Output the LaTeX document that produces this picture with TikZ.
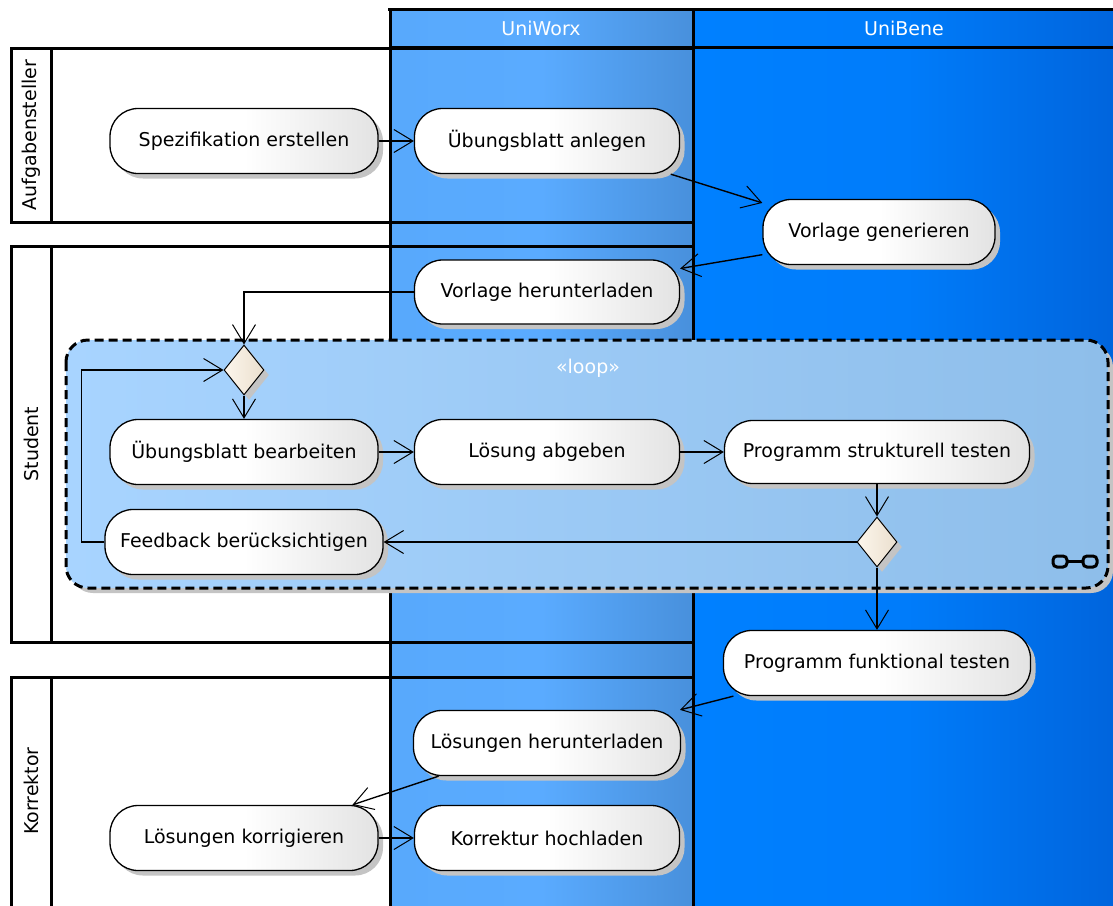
\documentclass[tikz,border=0pt]{standalone}
\usepackage{fontspec}
\setmainfont{DejaVu Sans}
\usetikzlibrary{arrows.meta,shapes.geometric,shadows,calc}
\definecolor{worxL}{HTML}{58A9FC}
\definecolor{worxM}{HTML}{5AABFF}
\definecolor{worxR}{HTML}{4890DC}
\definecolor{beneL}{HTML}{0080FF}
\definecolor{beneM}{HTML}{007CFA}
\definecolor{beneR}{HTML}{0064DC}
\definecolor{loopL}{HTML}{A8D4FF}
\definecolor{loopR}{HTML}{8EBEEA}
\definecolor{diaL}{HTML}{FDF6EC}
\definecolor{diaR}{HTML}{EADFCE}
\definecolor{shad}{HTML}{C4C4C4}
\tikzset{
  txt/.style={font=\fontsize{19}{22}\selectfont},
  act/.style={txt, draw=black, line width=1.3pt, rounded corners=28pt,
    minimum height=65pt, inner sep=0pt,
    left color=white, right color=black!11, middle color=white,
    drop shadow={shadow xshift=5pt, shadow yshift=-5pt, fill=shad, opacity=1}},
  dec/.style={diamond, draw=black, line width=1pt, minimum width=40pt, minimum height=50pt, inner sep=0pt,
    left color=diaL, right color=diaR,
    drop shadow={shadow xshift=5pt, shadow yshift=-5pt, fill=shad, opacity=1}},
  flow/.style={line width=1.4pt, -{Straight Barb[length=19pt,width=23pt,line width=1pt]}},
  hdr/.style={txt, text=white},
  lanelbl/.style={txt, rotate=90},
  border/.style={line width=3pt, draw=black},
}
\begin{document}
\begin{tikzpicture}[x=1pt,y=-1pt]
\useasboundingbox (0,0) rectangle (1113,905);
\clip (0,0) rectangle (1113,905);
\fill[white] (0,0) rectangle (1113,905);
% columns
\shade[left color=worxL, right color=worxR, middle color=worxM] (390,9) rectangle (693,910);
\shade[left color=beneL, right color=beneR, middle color=beneM] (693,9) rectangle (1120,910);
% lanes (white parts)
\fill[white] (11,48) rectangle (390,222);
\fill[white] (11,246) rectangle (390,642);
\fill[white] (11,677) rectangle (390,915);
% lane borders
\draw[border] (11,48) rectangle (693,222);
\draw[border] (11,246) rectangle (693,642);
\draw[border] (11,677) rectangle (693,915);
\draw[border] (51,48) -- (51,222);
\draw[border] (51,246) -- (51,642);
\draw[border] (51,677) -- (51,915);
% column borders
\draw[border] (390,8) -- (390,910);
\draw[border] (693,8) -- (693,910);
\draw[border] (388,9) -- (1115,9);
\draw[border] (390,47) -- (1115,47);
% headers and lane labels
\node[hdr] (hW) at (541,28) {UniWorx};
\node[hdr] (hB) at (904,28) {UniBene};
\node[lanelbl] (lA) at (31,135) {Aufgabensteller};
\node[lanelbl] (lS) at (31,444) {Student};
\node[lanelbl] (lK) at (31,791) {Korrektor};
% loop region
\path[draw=black, line width=3pt, dash pattern=on 9pt off 5pt, rounded corners=22pt,
  left color=loopL, right color=loopR,
  drop shadow={shadow xshift=5pt, shadow yshift=-5pt, fill=shad, opacity=1}]
  (66,340) rectangle (1108,588);
\node[txt, text=white] (looplbl) at (588,368) {«loop»};
% link icon
\draw[line width=3pt, rounded corners=4pt] (1053,556) rectangle (1067,567);
\draw[line width=3pt, rounded corners=4pt] (1083,556) rectangle (1097,567);
\draw[line width=3pt] (1067,561.5) -- (1083,561.5);
% activities
\node[act, minimum width=268pt] (spez) at (244,141) {Spezifikation erstellen};
\node[act, minimum width=265pt] (anlegen) at (547,141) {Übungsblatt anlegen};
\node[act, minimum width=232pt] (vgen) at (879,232) {Vorlage generieren};
\node[act, minimum width=265pt, minimum height=64pt] (vherunter) at (547,292) {Vorlage herunterladen};
\node[dec] (d1) at (244,370) {};
\node[act, minimum width=268pt] (bearb) at (244,452) {Übungsblatt bearbeiten};
\node[act, minimum width=265pt] (abgeb) at (547,452) {Lösung abgeben};
\node[act, minimum width=305pt, minimum height=63pt] (strukt) at (877,452) {Programm strukturell testen};
\node[dec] (d2) at (877,542) {};
\node[act, minimum width=278pt] (feedb) at (244,542) {Feedback berücksichtigen};
\node[act, minimum width=307pt] (funkt) at (877,663) {Programm funktional testen};
\node[act, minimum width=267pt] (lherunter) at (547,743) {Lösungen herunterladen};
\node[act, minimum width=268pt] (korr) at (244,838) {Lösungen korrigieren};
\node[act, minimum width=265pt] (hochl) at (547,838) {Korrektur hochladen};
% flows
\draw[flow] (spez.east) -- (anlegen.west);
\draw[flow] (anlegen.-15) -- (vgen.166);
\draw[flow] (vgen.191) -- (vherunter.10);
\draw[flow] (vherunter.west) -| (d1.north);
\draw[flow] (d1.south) -- (bearb.north);
\draw[flow] (bearb.east) -- (abgeb.west);
\draw[flow] (abgeb.east) -- (strukt.west);
\draw[flow] (strukt.south) -- (d2.north);
\draw[flow] (d2.west) -- (feedb.east);
\draw[flow] (d2.south) -- (funkt.north);
\draw[flow] (feedb.west) -- ++(-23,0) |- (d1.west);
\draw[flow] (funkt.193) -- (lherunter.14);
\draw[flow] (lherunter.197) -- (korr.17);
\draw[flow] (korr.east) -- (hochl.west);
\end{tikzpicture}
\end{document}
